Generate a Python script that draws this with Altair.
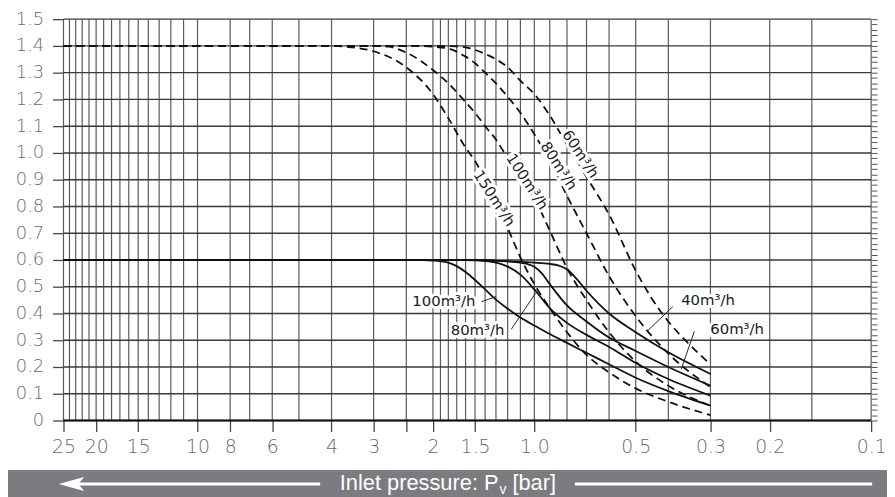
import altair as alt
import pandas as pd

# ---------------- data ----------------
# vertical grid lines (inlet pressure, bar)
grid_p = [25, 24, 23, 22, 21, 20, 19, 18, 17, 16, 15, 14, 13, 12, 11, 10, 8, 7, 6, 5, 4, 3, 2.4,
          2, 1.9, 1.8, 1.7, 1.6, 1.5, 1.4, 1.3, 1.2, 1.1, 1.0, 0.9, 0.8, 0.7, 0.6, 0.5, 0.4, 0.3,
          0.2, 0.15, 0.1]
tick_p = [25, 20, 15, 10, 8, 6, 4, 3, 2.4, 2, 1.5, 1.0, 0.5, 0.3, 0.2, 0.1]
grid_y = [0, 0.1, 0.2, 0.3, 0.4, 0.5, 0.6, 0.7, 0.8, 0.9, 1.0, 1.1, 1.2, 1.3, 1.4, 1.5]
minor_y = [round(i * 0.02, 2) for i in range(76)]

# dashed curves (upper family)
d60_p = [25, 10, 5, 3, 2, 1.7, 1.6, 1.5, 1.4, 1.3, 1.2, 1.1, 1.0, 0.9, 0.8, 0.7, 0.6, 0.5, 0.45, 0.4, 0.35, 0.3]
d60_v = [1.40, 1.40, 1.40, 1.40, 1.40, 1.398, 1.395, 1.385, 1.37, 1.35, 1.32, 1.27, 1.22, 1.14, 1.03, 0.91,
         0.77, 0.56, 0.46, 0.37, 0.29, 0.21]
d80_p = [25, 10, 5, 3, 2.2, 2.0, 1.8, 1.6, 1.5, 1.4, 1.3, 1.2, 1.1, 1.0, 0.9, 0.8, 0.7, 0.6, 0.5, 0.4, 0.3]
d80_v = [1.40, 1.40, 1.40, 1.40, 1.40, 1.397, 1.39, 1.36, 1.335, 1.30, 1.26, 1.21, 1.15, 1.07, 0.97, 0.84,
         0.70, 0.54, 0.39, 0.25, 0.125]
d100_p = [25, 10, 5, 3, 2.7, 2.4, 2.0, 1.8, 1.6, 1.5, 1.4, 1.3, 1.2, 1.1, 1.0, 0.9, 0.8, 0.7, 0.6, 0.5, 0.4, 0.3]
d100_v = [1.40, 1.40, 1.40, 1.40, 1.397, 1.375, 1.31, 1.26, 1.19, 1.15, 1.10, 1.05, 0.98, 0.91, 0.83, 0.71,
          0.57, 0.45, 0.33, 0.22, 0.13, 0.055]
d150_p = [25, 10, 5, 4, 3.5, 3, 2.4, 2.0, 1.8, 1.6, 1.5, 1.4, 1.3, 1.2, 1.1, 1.0, 0.9, 0.8, 0.7, 0.6, 0.5, 0.4, 0.3]
d150_v = [1.40, 1.40, 1.40, 1.40, 1.395, 1.38, 1.32, 1.22, 1.13, 1.02, 0.97, 0.90, 0.82, 0.72, 0.61, 0.51,
          0.42, 0.33, 0.245, 0.18, 0.12, 0.07, 0.02]

# solid curves (lower family)
s40_p = [25, 10, 5, 2, 1.5, 1.2, 1.0, 0.9, 0.85, 0.8, 0.75, 0.7, 0.6, 0.5, 0.4, 0.3]
s40_v = [0.60, 0.60, 0.60, 0.60, 0.60, 0.595, 0.59, 0.585, 0.58, 0.565, 0.53, 0.485, 0.40, 0.33, 0.255, 0.174]
s60_p = [25, 10, 5, 2, 1.5, 1.3, 1.2, 1.1, 1.05, 1.0, 0.95, 0.9, 0.8, 0.7, 0.6, 0.5, 0.4, 0.3]
s60_v = [0.60, 0.60, 0.60, 0.60, 0.60, 0.597, 0.595, 0.59, 0.585, 0.575, 0.55, 0.51, 0.43, 0.37, 0.31, 0.26,
         0.20, 0.13]
s80_p = [25, 10, 5, 2, 1.7, 1.5, 1.4, 1.3, 1.2, 1.1, 1.0, 0.9, 0.8, 0.7, 0.6, 0.5, 0.4, 0.3]
s80_v = [0.60, 0.60, 0.60, 0.60, 0.60, 0.599, 0.596, 0.59, 0.575, 0.545, 0.49, 0.42, 0.365, 0.32, 0.275, 0.215,
         0.155, 0.093]
s100_p = [25, 10, 5, 2.3, 2.0, 1.8, 1.7, 1.6, 1.5, 1.4, 1.3, 1.2, 1.1, 1.0, 0.9, 0.8, 0.7, 0.6, 0.5, 0.4, 0.3]
s100_v = [0.60, 0.60, 0.60, 0.60, 0.598, 0.59, 0.577, 0.555, 0.525, 0.49, 0.452, 0.418, 0.385, 0.355, 0.323,
          0.29, 0.253, 0.21, 0.16, 0.11, 0.056]

# curve labels
dlab_text = ["60m³/h", "80m³/h", "100m³/h", "150m³/h"]
dlab_p = [0.729, 0.846, 1.05, 1.314]
dlab_v = [0.996, 0.952, 0.893, 0.830]
slab_text = ["100m³/h", "80m³/h", "40m³/h", "60m³/h"]
slab_p = [1.856, 1.474, 0.305, 0.250]
slab_v = [0.448, 0.337, 0.452, 0.341]
# leader lines (start / end)
lead_p1 = [1.435, 1.171, 0.388, 0.335]
lead_v1 = [0.444, 0.341, 0.426, 0.333]
lead_p2 = [1.30, 0.989, 0.463, 0.366]
lead_v2 = [0.463, 0.478, 0.333, 0.193]

axis_title = ["Inlet pressure: P", "v", "[bar]"]

# ---------------- chart ----------------
W, H = 815, 405
xs = alt.Scale(type="log", domain=[0.1, 25], reverse=True)
ys = alt.Scale(domain=[0, 1.5])
LABEL_FONT = "DejaVu Sans"

x_axis = alt.Axis(values=tick_p, tickSize=11, tickColor="#444", tickWidth=1.3, domain=False, grid=False,
                  labelFont=LABEL_FONT, labelFontSize=19, labelFontWeight=200, labelColor="#6a6a6a",
                  labelPadding=6, labelFlush=False, labelOverlap=False, labelBound=False, title=None,
                  labelExpr="abs(datum.value-2.4)<0.01 ? '' : (datum.value >= 2 ? format(datum.value, 'd') : format(datum.value, '.1f'))")
y_axis = alt.Axis(values=grid_y, tickSize=11, tickColor="#444", tickWidth=1.3, domain=False, grid=False,
                  labelFont=LABEL_FONT, labelFontSize=18, labelFontWeight=200, labelColor="#6a6a6a",
                  labelPadding=9, title=None,
                  labelExpr="datum.value == 0 ? '0' : format(datum.value, '.1f')")
y_minor = alt.Axis(values=minor_y, tickSize=6, tickColor="#555", tickWidth=1, domain=False, grid=False,
                   labels=False, title=None)

vg_df = pd.DataFrame({"p": grid_p, "y0": 0.0, "y1": 1.5})
vgrid = alt.Chart(vg_df).mark_rule(color="#5a5a5a", strokeWidth=1.2).encode(
    x=alt.X("p:Q", scale=xs, axis=x_axis),
    y=alt.Y("y0:Q", scale=ys, axis=None),
    y2="y1:Q",
)

hg_df = pd.DataFrame({"v": grid_y, "x0": 25.0, "x1": 0.1})
hgrid = alt.Chart(hg_df).mark_rule(color="#3a3a3a", strokeWidth=1.4).encode(
    y=alt.Y("v:Q", scale=ys, axis=y_axis),
    x=alt.X("x0:Q", scale=xs, axis=None),
    x2="x1:Q",
)

base_df = pd.DataFrame({"v": [0.0], "x0": [25.0], "x1": [0.1]})
baseline = alt.Chart(base_df).mark_rule(color="#111", strokeWidth=2.2).encode(
    y=alt.Y("v:Q", scale=ys, axis=None),
    x=alt.X("x0:Q", scale=xs, axis=None),
    x2="x1:Q",
)


def long(series):
    rows = []
    for name, ps, vs in series:
        for p, v in zip(ps, vs):
            rows.append({"series": name, "p": p, "v": v})
    return pd.DataFrame(rows)


dashed_df = long([("d60", d60_p, d60_v), ("d80", d80_p, d80_v), ("d100", d100_p, d100_v),
                  ("d150", d150_p, d150_v)])
solid_df = long([("s40", s40_p, s40_v), ("s60", s60_p, s60_v), ("s80", s80_p, s80_v),
                 ("s100", s100_p, s100_v)])

dashed = alt.Chart(dashed_df).mark_line(interpolate="monotone", color="#111", strokeWidth=1.8,
                                        strokeDash=[8, 5]).encode(
    x=alt.X("p:Q", scale=xs, axis=None),
    y=alt.Y("v:Q", scale=ys, axis=y_minor),
    detail="series:N",
    order=alt.Order("p:Q", sort="descending"),
)
solid = alt.Chart(solid_df).mark_line(interpolate="monotone", color="#111", strokeWidth=1.8).encode(
    x=alt.X("p:Q", scale=xs, axis=None),
    y=alt.Y("v:Q", scale=ys, axis=None),
    detail="series:N",
    order=alt.Order("p:Q", sort="descending"),
)

lead_df = pd.DataFrame({"p1": lead_p1, "v1": lead_v1, "p2": lead_p2, "v2": lead_v2})
leaders = alt.Chart(lead_df).mark_rule(color="#222", strokeWidth=1).encode(
    x=alt.X("p1:Q", scale=xs, axis=None), x2="p2:Q",
    y=alt.Y("v1:Q", scale=ys, axis=None), y2="v2:Q",
)

dl_df = pd.DataFrame({"t": dlab_text, "p": dlab_p, "v": dlab_v})
sl_df = pd.DataFrame({"t": slab_text, "p": slab_p, "v": slab_v})


def label_layers(df, angle):
    enc = dict(x=alt.X("p:Q", scale=xs, axis=None), y=alt.Y("v:Q", scale=ys, axis=None), text="t:N")
    kw = dict(font=LABEL_FONT, fontSize=15, align="center", baseline="middle", angle=angle)
    halo = alt.Chart(df).mark_text(color="white", stroke="white", strokeWidth=6, **kw).encode(**enc)
    txt = alt.Chart(df).mark_text(color="#1a1a1a", **kw).encode(**enc)
    return [halo, txt]


one = pd.DataFrame({"k": [0]})
band = alt.Chart(one).mark_rect(color="#7b7c7f").encode(
    x=alt.value(-56), x2=alt.value(W + 16), y=alt.value(455), y2=alt.value(492))
line_l = alt.Chart(one).mark_rule(color="white", strokeWidth=3).encode(
    x=alt.value(14), x2=alt.value(259), y=alt.value(469))
line_r = alt.Chart(one).mark_rule(color="white", strokeWidth=3).encode(
    x=alt.value(516), x2=alt.value(816), y=alt.value(469))
arrow = alt.Chart(one).mark_point(shape="M-1,0L1,-0.55L0.55,0L1,0.55Z", filled=True, color="white",
                                  opacity=1, size=650, strokeWidth=0).encode(
    x=alt.value(8), y=alt.value(469))
t_df = pd.DataFrame({"t": axis_title})
title_main = alt.Chart(t_df.iloc[[0]]).mark_text(font="Liberation Sans", fontSize=22, color="white",
                                                 align="right", baseline="alphabetic").encode(
    x=alt.value(439), y=alt.value(475), text="t:N")
title_sub = alt.Chart(t_df.iloc[[1]]).mark_text(font="Liberation Sans", fontSize=14, color="white",
                                                align="left", baseline="alphabetic").encode(
    x=alt.value(440), y=alt.value(479), text="t:N")
title_unit = alt.Chart(t_df.iloc[[2]]).mark_text(font="Liberation Sans", fontSize=22, color="white",
                                                 align="left", baseline="alphabetic").encode(
    x=alt.value(453), y=alt.value(475), text="t:N")

layers = [vgrid, hgrid, baseline, dashed, solid, leaders] + label_layers(dl_df, 57) + \
         label_layers(sl_df, 0) + [band, line_l, line_r, arrow, title_main, title_sub, title_unit]

chart = alt.layer(*layers).resolve_axis(x="independent", y="independent").properties(
    width=W, height=H, autosize="none",
    padding={"left": 56, "top": 9, "right": 16, "bottom": 83},
    background="white",
).configure_view(stroke=None)

chart.save("out.html", embed_options={"renderer": "svg", "actions": False})
